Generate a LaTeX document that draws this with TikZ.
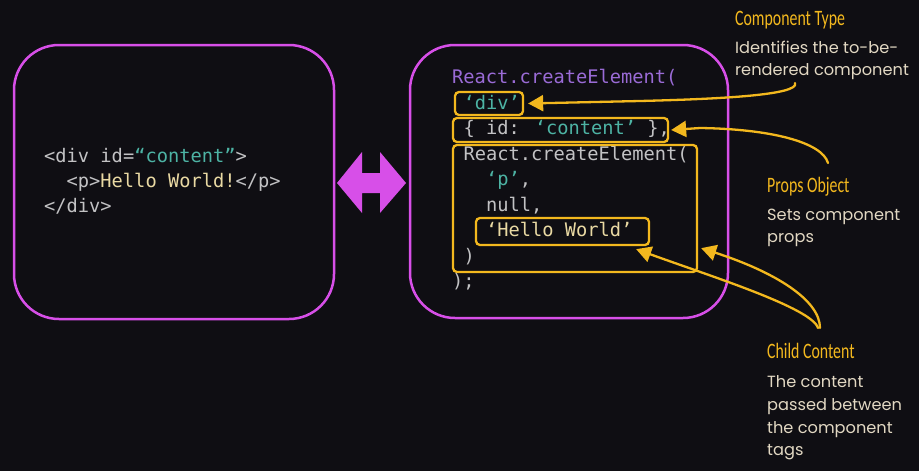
\documentclass[tikz,border=0pt]{standalone}
\usepackage{fontspec}
\usetikzlibrary{arrows.meta,calc}
\newfontfamily\codefont{DejaVu Sans Mono}
\newfontfamily\bodyfont{Poppins}
\newfontfamily\titlefont[FakeStretch=0.72]{Carlito}
\definecolor{bg}{HTML}{0F0E13}
\definecolor{mag}{HTML}{D74FE8}
\definecolor{yel}{HTML}{F3B81E}
\definecolor{teal}{HTML}{4DB3A4}
\definecolor{cgray}{HTML}{C2C2C4}
\definecolor{purp}{HTML}{9A6BD6}
\definecolor{hello}{HTML}{E9D9A3}
\definecolor{body}{HTML}{E2D8C3}
\tikzset{
  codeline/.style={anchor=base west, inner sep=0pt, text=cgray, font=\codefont\fontsize{18.7}{25}\selectfont},
  mbox/.style={draw=mag, line width=2.5pt, rounded corners=45pt, inner sep=0pt},
  ybox/.style={draw=yel, line width=2.3pt, rounded corners=4pt, inner sep=0pt},
  yarrow/.style={draw=yel, line width=2.3pt, line cap=round, -{Triangle[length=15pt,width=16pt]}},
  ttl/.style={anchor=base west, inner sep=0pt, text=yel, font=\titlefont\fontsize{22}{26}\selectfont},
  bdy/.style={anchor=base west, inner sep=0pt, text=body, align=left, font=\bodyfont\fontsize{16.2}{22.5}\selectfont},
}
\begin{document}
\begin{tikzpicture}[x=1pt,y=-1pt]
\fill[bg] (0,0) rectangle (919,471);
\useasboundingbox (0,0) rectangle (919,471);

% magenta boxes
\node[mbox, minimum width=320pt, minimum height=274pt] (html) at (174,182) {};
\node[mbox, minimum width=318pt, minimum height=273pt] (react) at (569,181.5) {};

% double arrow
\fill[mag] (337,183) -- (362,152) -- (362,173) -- (380,173) -- (380,152) -- (406,183)
  -- (380,213) -- (380,193) -- (362,193) -- (362,213) -- cycle;

% left code
\node[codeline] (l1) at (44,162) {<div id=\textcolor{teal}{“content”}>};
\node[codeline] (l2) at (66.5,187) {<p>\textcolor{hello}{Hello World!}</p>};
\node[codeline] (l3) at (44,212) {</div>};

% right code
\node[codeline, text=purp] (r1) at (452,83) {React.createElement(};
\node[codeline, text=teal] (r2) at (463.3,109) {‘div’};
\node[codeline] (r3) at (463.3,134.5) {\{ id: \textcolor{teal}{‘content’} \},};
\node[codeline] (r4) at (463.3,160) {React.createElement(};
\node[codeline] (r5) at (485.8,185.5) {\textcolor{teal}{‘p’},};
\node[codeline] (r6) at (485.8,211) {null,};
\node[codeline, text=hello] (r7) at (485.8,236.5) {‘Hello World’};
\node[codeline] (r8) at (463.3,262) {)};
\node[codeline] (r9) at (452,287.5) {);};

% yellow boxes
\node[ybox, minimum width=68pt, minimum height=23pt] (divbox) at (489,103.5) {};
\node[ybox, minimum width=215pt, minimum height=24pt] (propsbox) at (560.5,130) {};
\node[ybox, minimum width=244pt, minimum height=127pt] (innerbox) at (575,208.5) {};
\node[ybox, minimum width=173pt, minimum height=27pt] (hellobox) at (562.5,231.5) {};

% annotations
\node[ttl] (t1) at (735,25) {Component Type};
\node[bdy] (b1a) at (735,53) {Identifies the to-be-};
\node[bdy] (b1b) at (735,75) {rendered component};
\node[ttl] (t2) at (767,192) {Props Object};
\node[bdy] (b2a) at (767,220) {Sets component};
\node[bdy] (b2b) at (767,242) {props};
\node[ttl] (t3) at (767,358) {Child Content};
\node[bdy] (b3a) at (767,387) {The content};
\node[bdy] (b3b) at (767,410) {passed between};
\node[bdy] (b3c) at (767,433) {the component};
\node[bdy] (b3d) at (767,455) {tags};

% connectors
\coordinate (ca) at (795,83);
\coordinate (cb) at (828,163);
\coordinate (cc) at (818,328);
\coordinate (cd) at (820,328);
\draw[yarrow] (ca) .. controls (800,95) and (720,99) .. (640,101) -- ($(divbox.east)+(4,0)$);
\draw[yarrow] (cb) .. controls (822,142) and (770,129) .. (700,128) -- ($(propsbox.east)+(2,0)$);
\draw[yarrow] (cc) .. controls (812,308) and (710,276) .. ($(hellobox.south east)+(-14,3)$);
\draw[yarrow] (cd) .. controls (820,300) and (775,272) .. ($(innerbox.south east)+(3,-25)$);
\end{tikzpicture}
\end{document}
